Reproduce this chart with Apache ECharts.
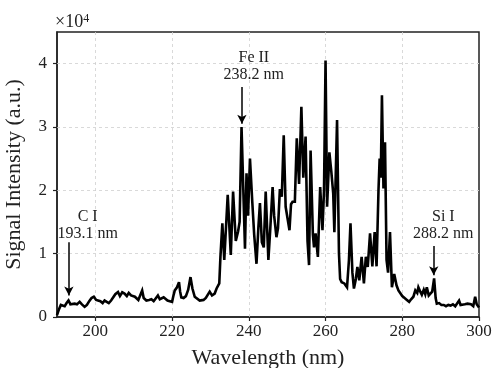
<!DOCTYPE html>
<html>
<head>
<meta charset="utf-8">
<script src="https://cdn.jsdelivr.net/npm/echarts@6/dist/echarts.min.js"></script>
<style>html,body{margin:0;padding:0;background:#fff;}#c{width:494px;height:368px;}</style>
</head>
<body>
<div id="c"></div>
<script>
const wavelength = [190.0,190.5,191.0,191.5,192.0,192.5,193.0,193.5,194.0,194.6,195.2,195.9,196.5,197.2,197.8,198.4,199.0,199.6,200.2,200.7,201.3,201.9,202.4,202.9,203.5,204.1,204.6,205.2,205.9,206.4,207.0,207.6,208.2,208.7,209.3,209.8,210.3,210.7,211.2,211.7,212.2,212.6,213.3,214.0,214.6,215.2,215.7,216.3,216.8,217.3,217.8,218.3,218.8,219.4,220.0,220.4,220.7,221.2,221.8,222.1,222.4,223.0,223.6,224.2,224.8,225.3,225.9,226.4,227.2,227.7,228.2,228.8,229.3,229.8,230.4,231.1,231.6,232.0,232.3,232.6,233.1,233.6,234.5,235.3,235.9,236.6,237.2,237.6,238.1,239.0,239.4,239.8,240.3,240.9,241.4,242.0,242.5,242.9,243.4,243.9,244.4,245.1,245.6,246.2,246.6,247.2,247.6,248.1,248.6,249.1,249.6,250.0,250.6,251.0,251.4,252.0,252.5,253.1,253.7,254.2,254.8,255.3,255.7,256.1,256.7,257.0,257.4,258.0,258.6,259.2,259.6,260.0,260.4,261.0,261.5,262.0,262.3,263.0,263.5,263.8,264.2,264.9,265.6,266.1,266.5,267.0,267.4,267.9,268.3,268.8,269.4,270.0,270.5,271.0,271.6,272.2,272.8,273.3,273.8,274.1,274.4,274.7,275.1,275.5,275.9,276.3,276.8,277.3,277.9,278.5,279.0,279.4,280.0,280.6,281.2,281.8,282.3,282.9,283.4,283.9,284.2,284.7,285.1,285.6,286.0,286.4,286.9,287.3,287.8,288.3,288.7,289.0,289.6,290.2,290.8,291.4,292.0,292.6,293.2,293.8,294.3,294.8,295.2,295.7,296.3,297.0,297.5,297.9,298.5,299.0,299.4,300.0];
const intensity = [300,1200,1900,2100,1700,2200,2600,2000,1900,2100,2000,2400,2000,1600,1900,2500,3000,3200,2700,2400,2500,2200,2600,2600,2200,2600,2900,3600,3950,3300,3900,3700,3300,3800,3400,3700,3200,2900,2700,3000,4200,3000,2600,2700,2800,2500,2700,3400,2800,2700,3100,2800,2600,2500,2400,3500,4200,4600,5500,4000,3100,3000,3300,4300,6300,4500,3200,3000,2600,2800,2700,3000,3300,4000,3400,3700,4500,4300,5300,9500,14800,9000,19300,9800,19800,12000,13500,15000,30000,10800,22700,16000,25000,18200,13000,8400,14200,18000,11800,11000,19800,9000,14000,20500,16000,12600,14000,20200,19000,28700,17400,17500,13700,17800,18200,18200,28200,21000,33200,22000,28500,12000,8200,26300,13000,11000,13200,9500,20500,13700,20000,40500,17400,26000,23000,19500,13400,31100,10000,6000,5500,5300,4700,9000,14800,7000,4500,6000,7900,5800,9500,5300,9500,7900,13200,8000,13400,8000,20000,25000,22000,35000,20300,27600,9000,7000,13400,4700,6800,5000,4200,4000,3300,3000,2700,2400,2800,3200,4200,3800,4700,4000,3500,4300,3600,4700,3400,3200,4000,6100,3000,2100,2200,1900,1900,1700,1900,1800,2000,1700,1900,2600,1900,1800,2000,2100,1800,2000,1700,3200,2000,1500];
const xTicks = [200,220,240,260,280,300];
const yTicks = [0,10000,20000,30000,40000];
const annLabels = ['C I\n193.1 nm','Fe II\n238.2 nm','Si I\n288.2 nm'];
const annLine = [193.1,238.2,288.2];
const annArrowTop = [11800,36300,11200];
const annArrowTip = [3400,30500,6600];
const annTextX = [198.0,241.3,290.7];
const annTextY = [14500,39600,14500];

const serif = 'Liberation Serif';
const chart = echarts.init(document.getElementById('c'), null, {renderer:'canvas'});
const data = wavelength.map((w,i)=>[w,intensity[i]]);
const gridStyle = {color:'#d0d0d0',type:[3,3],width:0.8};
const gridLines = xTicks.filter(v=>v>190&&v<300).map(v=>({xAxis:v}))
  .concat(yTicks.filter(v=>v>0).map(v=>({yAxis:v})));
chart.setOption({
  animation:false,
  backgroundColor:'#fff',
  grid:{left:57,right:15,top:32,bottom:51,show:true,borderColor:'#222',borderWidth:1.5,backgroundColor:'transparent',outerBoundsMode:'none',containLabel:false},
  xAxis:{
    type:'value',min:190,max:300,
    name:'Wavelength (nm)',nameLocation:'middle',nameGap:30,
    nameTextStyle:{fontFamily:serif,fontSize:22,color:'#222'},
    axisLine:{show:true,lineStyle:{color:'#222',width:1.5}},
    axisTick:{show:true,length:4,inside:false,lineStyle:{color:'#222',width:1.2},customValues:xTicks},
    axisLabel:{customValues:xTicks,fontFamily:serif,fontSize:17,color:'#222',margin:6},
    splitLine:{show:false}
  },
  yAxis:{
    type:'value',min:0,max:45000,
    name:'Signal Intensity (a.u.)',nameLocation:'middle',nameGap:32,
    nameTextStyle:{fontFamily:serif,fontSize:22,color:'#222'},
    axisLine:{show:true,lineStyle:{color:'#222',width:1.5}},
    axisTick:{show:true,length:4,lineStyle:{color:'#222',width:1.2},customValues:yTicks},
    axisLabel:{customValues:yTicks,fontFamily:serif,fontSize:17,color:'#222',margin:10,formatter:v=>String(v/10000)},
    splitLine:{show:false}
  },
  graphic:[{type:'text',left:55,top:13,style:{text:'×10{s|4}',rich:{s:{fontSize:12,verticalAlign:'top',fontFamily:serif,fill:'#222',padding:[0,0,7,0]}},fontFamily:serif,fontSize:18,fill:'#222'}}],
  series:[
    {type:'line',data:data,showSymbol:false,symbol:'none',lineStyle:{color:'#000',width:2.6,join:'miter',miterLimit:4},z:3,
     markLine:{silent:true,symbol:['none','none'],label:{show:false},lineStyle:gridStyle,data:gridLines,z:1}},
    {type:'line',data:[],markLine:{silent:true,symbol:['none','arrow'],symbolSize:[7,9],label:{show:false},
      lineStyle:{color:'#000',width:1.5,type:'solid'},
      data:annLine.map((x,i)=>[{coord:[x,annArrowTop[i]]},{coord:[x,annArrowTip[i]]}])},
     markPoint:{silent:true,symbol:'rect',symbolSize:0,
      label:{show:true,position:'inside',fontFamily:serif,fontSize:16,color:'#222',lineHeight:17,align:'center',verticalAlign:'middle'},
      data:annLabels.map((t,i)=>({coord:[annTextX[i],annTextY[i]],value:t,label:{formatter:t}}))}}
  ]
});
</script>
</body>
</html>
